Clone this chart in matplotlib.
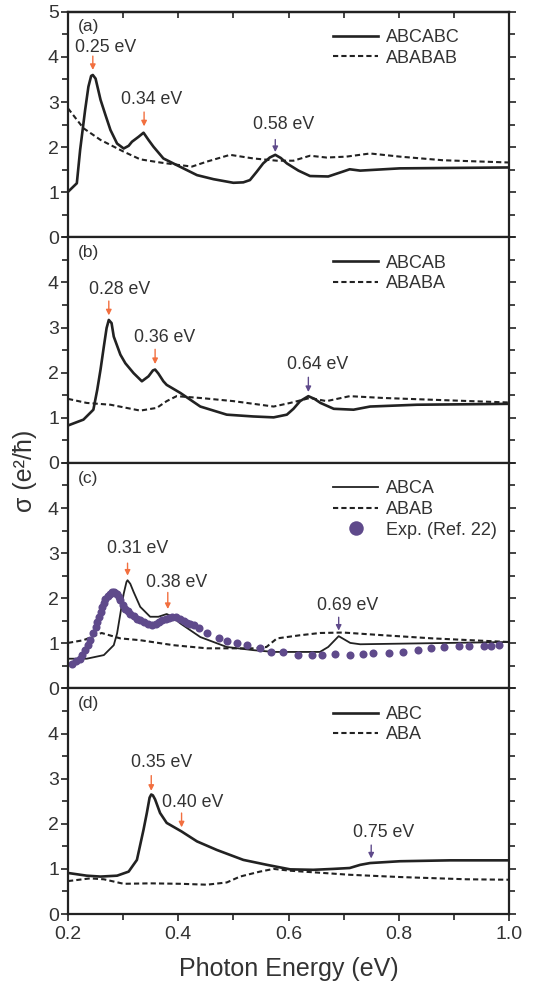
import numpy as np
import matplotlib
matplotlib.use("Agg")
import matplotlib.pyplot as plt
from matplotlib.ticker import MultipleLocator

plt.rcParams['font.family'] = ['Liberation Sans', 'DejaVu Sans']

orange = '#f26f3f'
purple = '#5f4a8b'

# panel (a)
xa_s = [0.2, 0.216, 0.222, 0.231, 0.237, 0.242, 0.245, 0.25, 0.259, 0.268, 0.277, 0.289, 0.301, 0.31, 0.316, 0.328, 0.337,
        0.346, 0.355, 0.373, 0.391, 0.434, 0.464, 0.5, 0.518, 0.53, 0.542, 0.554, 0.566, 0.576, 0.586, 0.597, 0.618, 0.639,
        0.672, 0.699, 0.711, 0.73, 0.802, 1.0]
ya_s = [1.01, 1.2, 1.94, 2.82, 3.34, 3.58, 3.6, 3.52, 3.05, 2.71, 2.38, 2.08, 1.97, 2.03, 2.12, 2.23, 2.32,
        2.16, 2.01, 1.75, 1.64, 1.38, 1.29, 1.21, 1.22, 1.27, 1.45, 1.64, 1.77, 1.83, 1.76, 1.64, 1.48, 1.36,
        1.35, 1.46, 1.51, 1.48, 1.53, 1.55]
xa_d = [0.2, 0.228, 0.259, 0.301, 0.331, 0.367, 0.404, 0.425, 0.452, 0.494, 0.536, 0.579, 0.609, 0.639, 0.669, 0.705, 0.748, 0.802, 0.88, 1.0]
ya_d = [2.86, 2.42, 2.16, 1.9, 1.73, 1.66, 1.6, 1.57, 1.68, 1.83, 1.75, 1.7, 1.7, 1.81, 1.77, 1.79, 1.86, 1.79, 1.71, 1.66]

# panel (b)
xb_s = [0.2, 0.228, 0.246, 0.253, 0.259, 0.265, 0.27, 0.274, 0.279, 0.283, 0.295, 0.304, 0.319, 0.334, 0.346, 0.354, 0.358,
        0.364, 0.373, 0.379, 0.404, 0.44, 0.488, 0.536, 0.573, 0.597, 0.609, 0.621, 0.636, 0.647, 0.658, 0.682, 0.718, 0.748, 0.833, 1.0]
yb_s = [0.83, 0.96, 1.18, 1.62, 2.07, 2.58, 2.99, 3.17, 3.1, 2.8, 2.4, 2.21, 1.99, 1.81, 1.92, 2.05, 2.07,
        1.98, 1.81, 1.73, 1.55, 1.25, 1.07, 1.03, 1.01, 1.07, 1.2, 1.37, 1.48, 1.42, 1.33, 1.2, 1.18, 1.25, 1.29, 1.31]
xb_d = [0.2, 0.234, 0.277, 0.331, 0.361, 0.379, 0.397, 0.44, 0.5, 0.573, 0.603, 0.639, 0.669, 0.711, 0.772, 0.862, 1.0]
yb_d = [1.42, 1.33, 1.29, 1.16, 1.22, 1.37, 1.48, 1.44, 1.37, 1.25, 1.33, 1.44, 1.37, 1.48, 1.44, 1.4, 1.34]

# panel (c)
xc_s = [0.2, 0.234, 0.265, 0.283, 0.289, 0.295, 0.301, 0.306, 0.308, 0.313, 0.319, 0.331, 0.349, 0.364, 0.379, 0.388, 0.404,
        0.44, 0.488, 0.536, 0.573, 0.657, 0.672, 0.691, 0.712, 0.73, 1.0]
yc_s = [0.66, 0.66, 0.74, 0.96, 1.22, 1.66, 2.1, 2.36, 2.4, 2.32, 2.14, 1.81, 1.59, 1.59, 1.65, 1.6, 1.44,
        1.14, 0.92, 0.85, 0.81, 0.81, 0.92, 1.16, 1.01, 0.98, 1.03]
xc_d = [0.2, 0.228, 0.261, 0.295, 0.331, 0.391, 0.452, 0.536, 0.56, 0.579, 0.621, 0.657, 0.699, 0.772, 0.862, 1.0]
yc_d = [1.01, 1.07, 1.23, 1.11, 1.07, 0.96, 0.89, 0.89, 0.92, 1.11, 1.18, 1.23, 1.24, 1.18, 1.11, 1.03]
xc_exp = [0.207, 0.214, 0.221, 0.226, 0.231, 0.236, 0.24, 0.245, 0.25, 0.253, 0.256, 0.259, 0.262, 0.265, 0.268, 0.272, 0.277, 0.28, 0.283,
          0.286, 0.289, 0.292, 0.295, 0.299, 0.304, 0.308, 0.313, 0.319, 0.325, 0.331, 0.337, 0.345, 0.353, 0.359, 0.365, 0.371, 0.377,
          0.383, 0.389, 0.396, 0.404, 0.41, 0.416, 0.422, 0.428, 0.438, 0.452, 0.473, 0.488, 0.506, 0.524, 0.548, 0.569, 0.59, 0.618,
          0.642, 0.66, 0.684, 0.711, 0.735, 0.753, 0.782, 0.807, 0.834, 0.858, 0.882, 0.909, 0.927, 0.954, 0.968, 0.981]
yc_exp = [0.54, 0.6, 0.66, 0.75, 0.85, 0.96, 1.07, 1.22, 1.37, 1.48, 1.59, 1.7, 1.81, 1.9, 1.99, 2.05, 2.1, 2.13, 2.14,
          2.12, 2.09, 2.03, 1.96, 1.86, 1.77, 1.71, 1.66, 1.6, 1.55, 1.51, 1.48, 1.43, 1.4, 1.44, 1.48, 1.51, 1.53,
          1.56, 1.59, 1.58, 1.55, 1.5, 1.45, 1.42, 1.4, 1.34, 1.24, 1.12, 1.05, 1.0, 0.96, 0.89, 0.81, 0.8, 0.74,
          0.74, 0.75, 0.77, 0.74, 0.77, 0.79, 0.79, 0.81, 0.85, 0.89, 0.91, 0.94, 0.94, 0.95, 0.94, 0.97]

# panel (d)
xd_s = [0.2, 0.234, 0.259, 0.289, 0.31, 0.325, 0.337, 0.343, 0.348, 0.351, 0.354, 0.358, 0.367, 0.379, 0.406, 0.434, 0.47,
        0.518, 0.561, 0.603, 0.645, 0.681, 0.711, 0.73, 0.748, 0.802, 0.893, 1.0]
yd_s = [0.91, 0.85, 0.83, 0.85, 0.94, 1.2, 1.87, 2.24, 2.58, 2.65, 2.63, 2.54, 2.24, 2.02, 1.83, 1.61, 1.42,
        1.2, 1.09, 0.99, 0.98, 1.0, 1.02, 1.09, 1.13, 1.17, 1.19, 1.19]
xd_d = [0.2, 0.24, 0.265, 0.301, 0.349, 0.404, 0.452, 0.488, 0.512, 0.548, 0.573, 0.603, 0.651, 0.711, 0.802, 0.923, 1.0]
yd_d = [0.73, 0.79, 0.77, 0.67, 0.68, 0.67, 0.65, 0.7, 0.83, 0.94, 1.0, 0.96, 0.92, 0.87, 0.82, 0.77, 0.76]

labels = [('ABCABC', 'ABABAB'), ('ABCAB', 'ABABA'), ('ABCA', 'ABAB'), ('ABC', 'ABA')]
panel_tags = ['(a)', '(b)', '(c)', '(d)']

# annotations: (text, text x, text y, arrow x, arrow top, arrow tip, colour)
notes = [
    [('0.25 eV', 0.268, 4.21, 0.245, 4.08, 3.65, orange),
     ('0.34 eV', 0.352, 3.05, 0.338, 2.84, 2.40, orange),
     ('0.58 eV', 0.591, 2.51, 0.576, 2.23, 1.83, purple)],
    [('0.28 eV', 0.294, 3.85, 0.274, 3.65, 3.21, orange),
     ('0.36 eV', 0.376, 2.79, 0.358, 2.58, 2.13, orange),
     ('0.64 eV', 0.653, 2.18, 0.636, 1.96, 1.51, purple)],
    [('0.31 eV', 0.326, 3.10, 0.308, 2.84, 2.44, orange),
     ('0.38 eV', 0.397, 2.34, 0.381, 2.19, 1.70, orange),
     ('0.69 eV', 0.708, 1.85, 0.691, 1.64, 1.22, purple)],
    [('0.35 eV', 0.370, 3.35, 0.351, 3.13, 2.67, orange),
     ('0.40 eV', 0.426, 2.48, 0.406, 2.30, 1.86, orange),
     ('0.75 eV', 0.772, 1.80, 0.750, 1.59, 1.17, purple)],
]

solids = [(xa_s, ya_s), (xb_s, yb_s), (xc_s, yc_s), (xd_s, yd_s)]
dashes = [(xa_d, ya_d), (xb_d, yb_d), (xc_d, yc_d), (xd_d, yd_d)]

fig, axes = plt.subplots(4, 1, figsize=(5.33, 9.86), dpi=100, sharex=True)
fig.subplots_adjust(left=0.1276, right=0.955, top=0.988, bottom=0.073, hspace=0)

for i, ax in enumerate(axes):
    sx, sy = solids[i]
    dx, dy = dashes[i]
    lw = 1.3 if i == 2 else 1.9
    ax.plot(sx, sy, color='#222222', lw=lw, label=labels[i][0], solid_joinstyle='round')
    ax.plot(dx, dy, color='#222222', lw=1.5, ls=(0, (2.5, 1.5)), label=labels[i][1])
    if i == 2:
        ax.plot(xc_exp, yc_exp, 'o', color=purple, ms=5.8, mec='none', label='Exp. (Ref. 22)')
    for t, tx, ty, axx, a0, a1, c in notes[i]:
        ax.text(tx, ty, t, ha='center', va='center', fontsize=12.8, color='#333333')
        ax.annotate('', xy=(axx, a1), xytext=(axx, a0),
                    arrowprops=dict(arrowstyle='-|>', color=c, lw=1.0, mutation_scale=8))
    ax.text(0.023, 0.933, panel_tags[i], transform=ax.transAxes, fontsize=12.5, color='#333333', va='center')
    leg = ax.legend(loc='upper left', bbox_to_anchor=(0.585, 0.955), frameon=False,
                    fontsize=13, handlelength=2.5, handletextpad=0.4, labelspacing=0.2,
                    markerscale=1.8, borderaxespad=0)
    for txt in leg.get_texts():
        txt.set_color('#333333')
    ax.set_xlim(0.2, 1.0)
    ax.set_ylim(0, 5)
    ax.set_yticks([0, 1, 2, 3, 4, 5] if i == 0 else [0, 1, 2, 3, 4])
    ax.yaxis.set_minor_locator(MultipleLocator(0.5))
    ax.xaxis.set_major_locator(MultipleLocator(0.2))
    ax.xaxis.set_minor_locator(MultipleLocator(0.1))
    ax.tick_params(which='both', direction='out', right=True, top=False, width=1.2, labelsize=14, colors='#222222', labelcolor='#333333')
    ax.tick_params(which='major', length=5)
    ax.tick_params(which='minor', length=4)
    ax.tick_params(axis='y', pad=1.5)
    for s in ax.spines.values():
        s.set_linewidth(1.6)
        s.set_color('#222222')

# inward ticks along the top edge of the first panel
top = axes[0].secondary_xaxis('top')
top.xaxis.set_major_locator(MultipleLocator(0.1))
top.tick_params(direction='in', length=4, width=1.2, labeltop=False, colors='#222222')
top.spines['top'].set_linewidth(1.6)

axes[-1].set_xlabel('Photon Energy (eV)', fontsize=18, color='#333333', labelpad=10)
fig.text(0.047, 0.522, 'σ (e²/ħ)', rotation=90, ha='center', va='center', fontsize=18, color='#333333')

fig.savefig('out.png', dpi=100)
